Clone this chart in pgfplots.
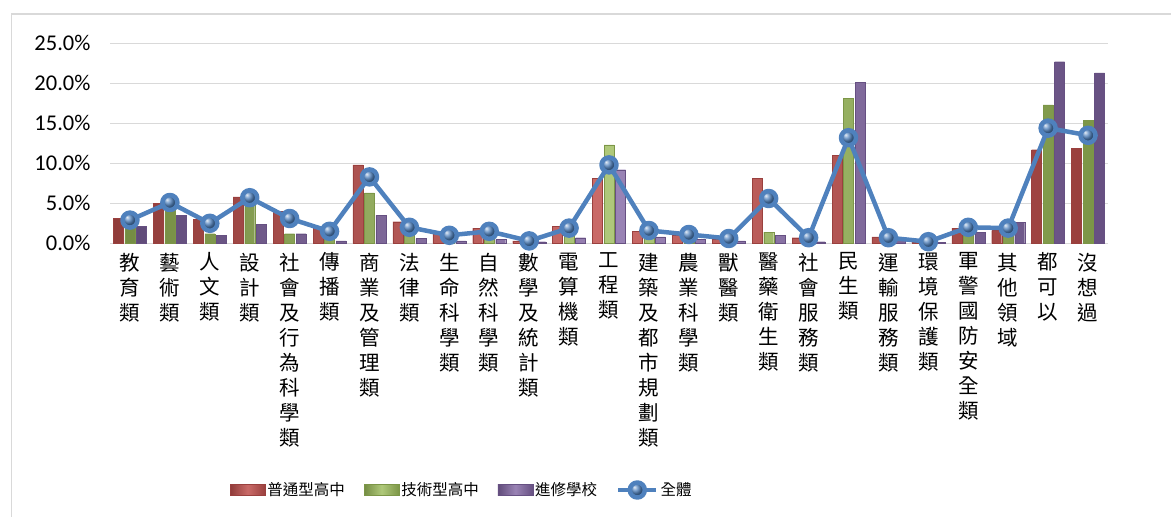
\documentclass[border=0pt]{standalone}
\usepackage{fontspec}
\setmainfont{Carlito}
\newfontfamily\cjk{Noto Sans CJK TC}
\usepackage{pgfplots}
\usepackage{pgfplotstable}
\pgfplotsset{compat=1.18}
\definecolor{cred}{HTML}{C0504D}
\definecolor{cgreen}{HTML}{9BBB59}
\definecolor{cpurple}{HTML}{8064A2}
\definecolor{cblue}{HTML}{4F81BD}
\definecolor{gridc}{HTML}{D9D9D9}
\pgfplotsset{
  barleg/.style={legend image code/.code={\draw[##1] (0pt,-5.5pt) rectangle (35pt,5.5pt);}},
  lineleg/.style={legend image code/.code={\draw[##1, mark=none] (0pt,0pt) -- (38pt,0pt);
     \draw[##1, draw=none] plot coordinates {(19pt,0pt)};}},
}
\pgfplotstableread{
x red green purple all
0 3.1 2.6 2.1 2.9
1 5.0 5.0 3.5 5.1
2 3.0 1.2 1.0 2.5
3 5.8 5.3 2.4 5.7
4 4.0 1.2 1.2 3.1
5 2.0 1.0 0.3 1.5
6 9.8 6.3 3.5 8.3
7 2.7 1.0 0.6 2.0
8 1.5 0.5 0.3 1.0
9 1.9 1.0 0.5 1.5
10 0.3 0.2 0.2 0.3
11 2.1 1.5 0.7 1.9
12 8.1 12.3 9.2 9.8
13 1.5 0.8 0.8 1.6
14 1.0 0.6 0.5 1.1
15 0.5 0.3 0.3 0.6
16 8.1 1.4 1.0 5.6
17 0.7 0.3 0.2 0.7
18 11.0 18.1 20.1 13.2
19 0.8 0.4 0.4 0.7
20 0.2 0.2 0.1 0.2
21 1.9 2.0 1.4 2.0
22 1.6 1.8 2.6 1.9
23 11.7 17.3 22.7 14.4
24 11.9 15.4 21.3 13.5
}\data
\begin{document}
\begin{tikzpicture}
\path[use as bounding box] (0,0) rectangle (1171pt,517pt);
\draw[gridc, line width=1.5pt] (11.5pt,-5pt) -- (11.5pt,503pt) -- (1180pt,503pt);
\begin{axis}[
  at={(110pt,273.7pt)}, anchor=south west,
  scale only axis, width=998pt, height=200pt,
  xmin=-0.5, xmax=24.5, ymin=0, ymax=25,
  axis line style={draw=none},
  major tick length=0pt,
  ytick={0,5,10,15,20,25},
  yticklabel={\pgfmathprintnumber[fixed,fixed zerofill,precision=1]{\tick}\%},
  /pgf/number format/assume math mode=true,
  yticklabel style={font=\fontsize{22.5}{26}\selectfont, xshift=-16pt},
  ymajorgrids, grid style={draw=gridc, line width=1.3pt},
  xtick={0,...,24},
  xticklabels={{教\\育\\類},{藝\\術\\類},{人\\文\\類},{設\\計\\類},{社\\會\\及\\行\\為\\科\\學\\類},{傳\\播\\類},{商\\業\\及\\管\\理\\類},{法\\律\\類},{生\\命\\科\\學\\類},{自\\然\\科\\學\\類},{數\\學\\及\\統\\計\\類},{電\\算\\機\\類},{工\\程\\類},{建\\築\\及\\都\\市\\規\\劃\\類},{農\\業\\科\\學\\類},{獸\\醫\\類},{醫\\藥\\衛\\生\\類},{社\\會\\服\\務\\類},{民\\生\\類},{運\\輸\\服\\務\\類},{環\\境\\保\\護\\類},{軍\\警\\國\\防\\安\\全\\類},{其\\他\\領\\域},{都\\可\\以},{沒\\想\\過}},
  xticklabel style={font=\cjk\fontsize{20.5}{25}\selectfont, align=center, anchor=north, yshift=-6pt},
  clip=false,
  legend columns=4,
  legend style={at={(0.1202,-1.2335)}, anchor=west, draw=none, fill=none,
    font=\cjk\fontsize{15.5}{19}\selectfont,
    /tikz/every even column/.append style={column sep=17pt},
    inner sep=0pt},
]
\addplot[ybar, bar width=10pt, bar shift=-11.5pt, draw=cred!80!black, line width=0.3pt,
  left color=cred!75!black, right color=cred!80!black, middle color=cred!85!white, barleg]
  table[x=x,y=red]{\data};
\addlegendentry{普通型高中}
\addplot[ybar, bar width=10pt, bar shift=0pt, draw=cgreen!80!black, line width=0.3pt,
  left color=cgreen!75!black, right color=cgreen!80!black, middle color=cgreen!80!white, barleg]
  table[x=x,y=green]{\data};
\addlegendentry{技術型高中}
\addplot[ybar, bar width=10pt, bar shift=11.5pt, draw=cpurple!80!black, line width=0.3pt,
  left color=cpurple!75!black, right color=cpurple!80!black, middle color=cpurple!80!white, barleg]
  table[x=x,y=purple]{\data};
\addlegendentry{進修學校}
\addplot[cblue, line width=4.5pt, line join=round, mark=ball, mark size=7.5pt,
  mark options={ball color=cblue}, lineleg]
  table[x=x,y=all]{\data};
\addlegendentry{全體}
\end{axis}
\end{tikzpicture}
\end{document}
